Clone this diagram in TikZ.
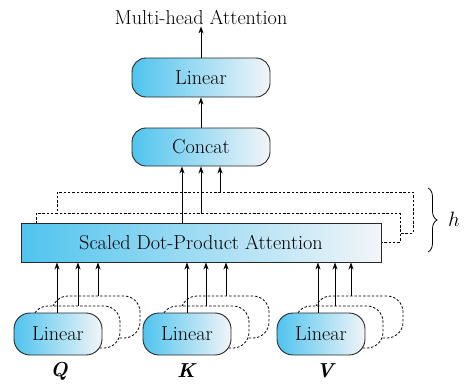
\documentclass[tikz,border=0pt]{standalone}
\usepackage{fontspec}
\usetikzlibrary{arrows.meta,decorations.pathreplacing}
\definecolor{gl}{RGB}{80,196,238}
\definecolor{gr}{RGB}{242,245,248}
\definecolor{edge}{RGB}{40,40,40}
\begin{document}
\begin{tikzpicture}[x=1pt,y=-1pt,
  font=\fontsize{20.2}{22}\selectfont,
  gbox/.style={draw=edge, line width=0.9pt, left color=gl, right color=gr, rounded corners=14pt, inner sep=0pt},
  ghost/.style={draw=black, dash pattern=on 2.5pt off 1.8pt, line width=0.8pt, fill=white, inner sep=0pt},
  arr/.style={line width=0.8pt, -{Stealth[length=7pt,width=5pt]}}]
\useasboundingbox (0,0) rectangle (471,386);

% top part
\node[inner sep=2pt] (title) at (201,17) {Multi-head Attention};
\node[gbox, minimum width=138pt, minimum height=39pt] (lin) at (201,77.5) {Linear};
\node[gbox, minimum width=138pt, minimum height=38pt] (concat) at (201,147) {Concat};
\draw[arr] (lin) -- (title);
\draw[arr] (concat) -- (lin);

% scaled dot-product attention with copies
\node[ghost, minimum width=356pt, minimum height=41pt] (s2) at (235,212.5) {};
\node[ghost, minimum width=364pt, minimum height=29pt] (s1) at (218,227.5) {};
\node[gbox, sharp corners, minimum width=360pt, minimum height=39pt] (sdpa) at (201,242.5) {Scaled Dot-Product Attention};

\coordinate (u1) at (182,0);
\coordinate (u2) at (201,0);
\coordinate (u3) at (220,0);
\draw[arr] (u1 |- sdpa.north) -- (u1 |- concat.south);
\draw[arr] (u2 |- s1.north) -- (u2 |- concat.south);
\draw[arr] (u3 |- s2.north) -- (u3 |- concat.south);

% brace
\coordinate (bt) at (428,188);
\coordinate (bb) at (428,252);
\draw[decorate, decoration={brace, amplitude=9pt}, line width=0.8pt] (bt) -- (bb);
\node (h) at (454,219) {$h$};

% bottom linear boxes
\foreach \n/\cx/\lx/\lab/\a/\b/\c in {q/58/59/Q/57/78/98, k/187/187/K/187/206/226, v/321/326/V/318/335/351}{
  \node[ghost, rounded corners=16pt, minimum width=88pt, minimum height=42pt] (\n c2) at (\cx+38,317) {};
  \node[ghost, rounded corners=16pt, minimum width=88pt, minimum height=42pt] (\n c1) at (\cx+18,327) {};
  \node[gbox, rounded corners=16pt, minimum width=88pt, minimum height=42pt] (\n) at (\cx,334) {Linear};
  \node (\n lab) at (\lx,371) {\textbf{\textit{\lab}}};
  \coordinate (\n a) at (\a,0);
  \coordinate (\n b) at (\b,0);
  \coordinate (\n cc) at (\c,0);
  \draw[arr] (\n a |- \n.north) -- (\n a |- sdpa.south);
  \draw[arr] (\n b |- \n c1.north) -- (\n b |- sdpa.south);
  \draw[arr] (\n cc |- \n c2.north) -- (\n cc |- sdpa.south);
}
\end{tikzpicture}
\end{document}
